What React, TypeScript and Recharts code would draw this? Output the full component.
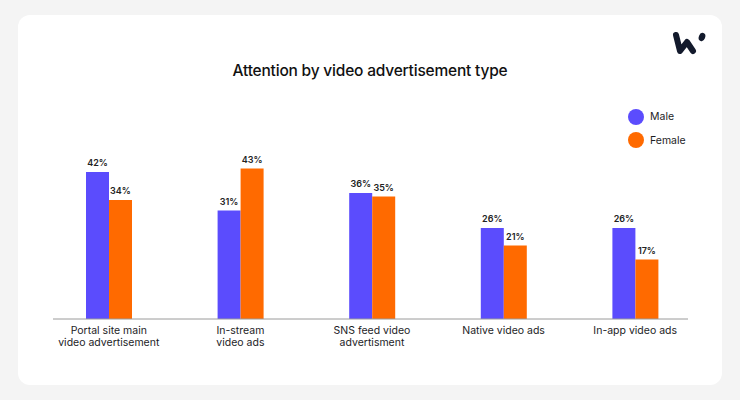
import { BarChart, Bar, XAxis, YAxis, LabelList } from "recharts";

const categories = [
  "Portal site main video advertisement",
  "In-stream video ads",
  "SNS feed video advertisment",
  "Native video ads",
  "In-app video ads",
];
const tickLines = [
  ["Portal site main", "video advertisement"],
  ["In-stream", "video ads"],
  ["SNS feed video", "advertisment"],
  ["Native video ads"],
  ["In-app video ads"],
];
const male = [42, 31, 36, 26, 26];
const female = [34, 43, 35, 21, 17];

const series = [
  { key: "male", name: "Male", color: "#5b4cfd" },
  { key: "female", name: "Female", color: "#ff6a00" },
];

const data = categories.map((c, i) => ({ name: c, male: male[i], female: female[i] }));

const FONT = "Inter, 'Noto Sans', sans-serif";

function Tick(props: { x?: number; y?: number; index?: number }) {
  const { x = 0, y = 0, index = 0 } = props;
  const lines = tickLines[index] ?? [];
  return (
    <text x={x} y={y} textAnchor="middle" fontSize={10.5} fill="#1d1d1f" fontFamily={FONT}>
      {lines.map((l, i) => (
        <tspan key={i} x={x} dy={i === 0 ? 7 : 12}>{l}</tspan>
      ))}
    </text>
  );
}

function Logo() {
  return (
    <svg width={40} height={26} style={{ position: "absolute", left: 670, top: 30 }}>
      <polyline points="6,5 10,21 17,12 23,21" fill="none" stroke="#131a2c" strokeWidth={6}
        strokeLinecap="round" strokeLinejoin="round" />
      <ellipse cx={32} cy={7} rx={3.2} ry={4.2} transform="rotate(20 32 7)" fill="#131a2c" />
    </svg>
  );
}

export default function App() {
  return (
    <div style={{ position: "absolute", left: 0, top: 0, width: 740, height: 400, background: "#f4f4f4", fontFamily: FONT }}>
      <div style={{ position: "absolute", left: 18, top: 15, width: 704, height: 370, background: "#fff", borderRadius: 12 }} />
      <Logo />
      <div style={{ position: "absolute", left: 0, width: 740, top: 61, textAlign: "center", fontSize: 15.5, fontWeight: 500, color: "#111", letterSpacing: -0.2 }}>
        Attention by video advertisement type
      </div>
      <div style={{ position: "absolute", left: 628, top: 105 }}>
        {series.map((s) => (
          <div key={s.key} style={{ display: "flex", alignItems: "center", height: 23.5 }}>
            <span style={{ width: 16, height: 16, borderRadius: 8, background: s.color, marginRight: 6 }} />
            <span style={{ fontSize: 10.5, color: "#1d1d1f" }}>{s.name}</span>
          </div>
        ))}
      </div>
      <div style={{ position: "absolute", left: 0, top: 0 }}>
        <BarChart width={740} height={400} data={data} barGap={0} barSize={23}
          margin={{ top: 144, right: 52, bottom: 51, left: 53 }}>
          <XAxis dataKey="name" interval={0} tickLine={false} height={30}
            axisLine={{ stroke: "#9a9a9a", strokeWidth: 1 }}
            padding={{ left: -10, right: -13 }}
            tick={<Tick />} />
          <YAxis hide domain={[0, 50]} />
          {series.map((s) => (
            <Bar key={s.key} dataKey={s.key} name={s.name} fill={s.color} isAnimationActive={false}>
              <LabelList dataKey={s.key} position="top" offset={6} fontSize={9} fontWeight={600}
                fill="#222" fontFamily={FONT} formatter={(v: number) => `${v}%`} />
            </Bar>
          ))}
        </BarChart>
      </div>
    </div>
  );
}
